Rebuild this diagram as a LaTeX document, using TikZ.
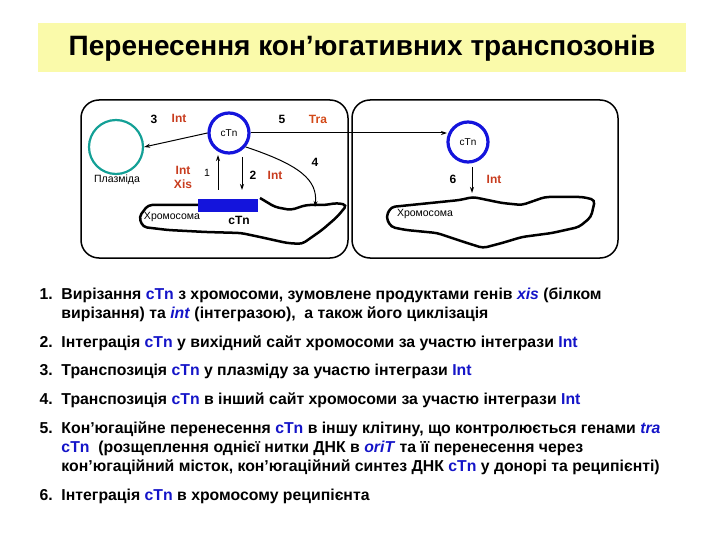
\documentclass[tikz,border=0pt]{standalone}
\usepackage{fontspec}
\setmainfont{Liberation Sans}
\usetikzlibrary{arrows.meta}
\definecolor{teal1}{RGB}{20,160,150}
\definecolor{ctnblue}{RGB}{20,20,220}
\definecolor{redint}{RGB}{200,60,30}
\definecolor{txtblue}{RGB}{20,20,200}
\definecolor{band}{RGB}{250,250,170}
\newcommand{\ct}{\textcolor{txtblue}{cTn}}
\newcommand{\bi}[1]{\textcolor{txtblue}{\textit{#1}}}
\begin{document}
\begin{tikzpicture}[x=1pt,y=-1pt,
  cell/.style={draw,line width=1.5pt,rounded corners=18pt},
  ring/.style={draw=ctnblue,line width=3.2pt,circle,minimum size=40pt,inner sep=0pt,font=\fontsize{10}{11}\selectfont},
  lab/.style={font=\bfseries\fontsize{12}{13}\selectfont},
  rlab/.style={lab,text=redint},
  small/.style={font=\fontsize{10.5}{11}\selectfont},
  arr/.style={-{Stealth[length=6pt,width=4pt]},line width=1pt},
  blob/.style={line width=2.5pt,rounded corners=4pt},
  item/.style={anchor=west,font=\bfseries\fontsize{15.8}{19}\selectfont,align=left}]
\useasboundingbox (0,0) rectangle (720,540);
\fill[band] (38,23) rectangle (686,72);
\node[font=\bfseries\fontsize{28}{30}\selectfont] (title) at (362,48) {Перенесення кон’югативних транспозонів};
% cells
\draw[cell] (81,100) rectangle (348,258);
\draw[cell] (352,100) rectangle (618,258);
% plasmid
\node[draw=teal1,line width=2.2pt,circle,minimum size=54pt,inner sep=0pt] (pl) at (116,147) {};
\node[small] (plt) at (117,180) {Плазміда};
% circles
\node[ring] (c1) at (229,133) {cTn};
\node[ring] (c2) at (468,142) {cTn};
% chromosomes
\draw[blob] (198,205) -- (148,205) -- (139,217) -- (143,227) -- (168,230) -- (206,232) -- (241,233) -- (260,237) -- (287,243) -- (302,244) -- (322,230) -- (337,217) -- (347,205) -- (337,203) -- (325,205) -- (306,205) -- (291,210) -- (275,207) -- (260,198);
\draw[blob] (391,207) -- (460,200) -- (473,197) -- (502,203) -- (522,205) -- (545,197) -- (583,197) -- (595,200) -- (591,217) -- (579,227) -- (552,233) -- (522,237) -- (502,243) -- (483,248) -- (464,242) -- (437,233) -- (406,230) -- (391,227) -- (386,217) -- cycle;
\node[fill=ctnblue,minimum width=60pt,minimum height=13pt,inner sep=0pt] (bar) at (228,205.5) {};
\node[small] (ch1) at (172,217) {Хромосома};
\node[small] (ch2) at (425,214) {Хромосома};
\node[lab] (ctn) at (239,220) {cTn};
% coordinates for arrow ends
\coordinate (a1s) at (218,190); \coordinate (a1e) at (218,155);
\coordinate (a2s) at (242,157); \coordinate (a2e) at (242,190);
\coordinate (a4e) at (315,207);
\coordinate (a5e) at (447,133);
\coordinate (a6s) at (472,167); \coordinate (a6e) at (472,193);
\draw[arr] (c1.west) -- (pl.east);
\draw[arr] (c1.east) -- (a5e);
\draw[arr] (a1s) -- (a1e);
\draw[arr] (a2s) -- (a2e);
\draw[arr] (c1.-40) .. controls (300,165) and (318,180) .. (a4e);
\draw[arr] (a6s) -- (a6e);
% labels
\node[lab] (n3) at (154,119) {3};
\node[rlab] (i3) at (179,118) {Int};
\node[lab] (n5) at (282,119) {5};
\node[rlab,text=redint!80!orange] (tra) at (318,119) {Tra};
\node[rlab] (i1) at (183,170) {Int};
\node[rlab] (x1) at (183,184) {Xis};
\node[small] (n1) at (207,173) {1};
\node[lab] (n2) at (253,175) {2};
\node[rlab] (i2) at (275,175) {Int};
\node[lab] (n4) at (315,162) {4};
\node[lab] (n6) at (453,179) {6};
\node[rlab] (i6) at (494,179) {Int};
% list
\node[item] (l1) at (36,305) {1.\ \ Вирізання \ct{} з хромосоми, зумовлене продуктами генів \bi{xis} (білком\\[0pt]\phantom{1.\ \ }вирізання) та \bi{int} (інтегразою),\ \ а також його циклізація};
\node[item] (l2) at (36,343) {2.\ \ Інтеграція \ct{} у вихідний сайт хромосоми за участю інтегрази \textcolor{txtblue}{Int}};
\node[item] (l3) at (36,371) {3.\ \ Транспозиція \ct{} у плазміду за участю інтегрази \textcolor{txtblue}{Int}};
\node[item] (l4) at (36,400) {4.\ \ Транспозиція \ct{} в інший сайт хромосоми за участю інтегрази \textcolor{txtblue}{Int}};
\node[item] (l5) at (36,448) {5.\ \ Кон’югаційне перенесення \ct{} в іншу клітину, що контролюється генами \bi{tra}\\\phantom{5.\ \ }\ct{}\ \ (розщеплення однієї нитки ДНК в \bi{oriT} та її перенесення через\\\phantom{5.\ \ }кон’югаційний місток, кон’югаційний синтез ДНК \ct{} у донорі та реципієнті)};
\node[item] (l6) at (36,496) {6.\ \ Інтеграція \ct{} в хромосому реципієнта};
\end{tikzpicture}
\end{document}
